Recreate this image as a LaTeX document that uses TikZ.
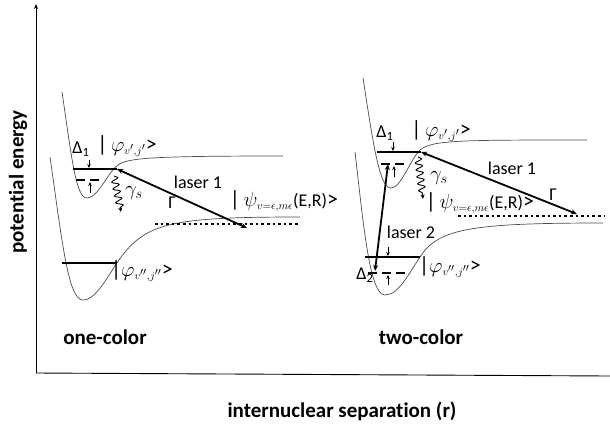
\documentclass[tikz,border=0pt]{standalone}
\usepackage{fontspec}
\setmainfont{Carlito}[Ligatures=NoCommon]
\usetikzlibrary{arrows.meta,decorations.pathmorphing}
\newcommand{\bigsz}{\fontsize{22}{24}\selectfont}

\begin{document}
\begin{tikzpicture}[
	x=1pt, y=-1pt, % one unit = one pixel of the layout, y grows downwards
	% Style for the thin potential curves
	curve/.style={
		draw=black!70,
		line width=0.7pt
	},
	% Style for the bound levels
	level/.style={
		draw=black,
		line width=2.2pt
	},
	% Style for the shifted (dashed) levels
	shifted/.style={
		draw=black,
		line width=2pt,
		dash pattern=on 9pt off 5pt
	},
	% Style for the continuum (dotted)
	continuum/.style={
		draw=black,
		line width=2.6pt,
		dash pattern=on 2.6pt off 3pt
	},
	% Style for the laser couplings
	laser/.style={
		draw=black,
		line width=1.8pt,
		{Stealth[length=6pt,width=5pt]}-{Stealth[length=6pt,width=5pt]}
	},
	% Style for the small detuning arrows
	detuning/.style={
		draw=black,
		line width=0.7pt,
		-{Stealth[length=4pt,width=3.5pt]}
	},
	% Style for the spontaneous decay
	decay/.style={
		draw=black,
		line width=0.9pt,
		decorate,
		decoration={snake, amplitude=3.5pt, segment length=7pt, post length=4pt},
		-{Stealth[length=4.5pt,width=4pt]}
	},
	% Style for the labels
	label text/.style={
		font=\fontsize{18}{20}\selectfont,
		inner sep=0pt
	},
	title text/.style={
		font=\fontsize{21}{23}\selectfont\bfseries,
		inner sep=0pt
	}
	]
	
	\useasboundingbox (0,0) rectangle (610,424);
	
	% 1. Axes
	\coordinate (O) at (36,373);
	\coordinate (Ytop) at (36,4);
	\coordinate (Xend) at (610,376);
	\draw[line width=0.9pt, -{Stealth[length=5pt,width=4pt]}] (O) -- (Ytop);
	\draw[line width=0.9pt] (O) -- (Xend);
	\node[title text, rotate=90] (energy) at (18,182) {potential energy};
	\node[title text] (separation) at (342,411) {internuclear separation (r)};
	
	% 2. One-color scheme (left)
	% Potential curves
	\draw[curve] (62,92) .. controls (72,160) and (76,198) .. (87,198)
		.. controls (98,198) and (108,172) .. (118,165)
		.. controls (128,158) and (150,156) .. (283,156);
	\draw[curve] (50,157) .. controls (62,240) and (68,300) .. (83,300)
		.. controls (98,300) and (110,270) .. (125,252)
		.. controls (150,222) and (180,217) .. (300,217);
	
	% Levels
	\coordinate (A1a) at (73,169);
	\coordinate (A1b) at (117,169);
	\coordinate (A2a) at (76,180);
	\coordinate (A2b) at (104,180);
	\coordinate (A0a) at (62,263);
	\coordinate (A0b) at (117,263);
	\coordinate (Aca) at (155,224);
	\coordinate (Acb) at (300,224);
	\coordinate (Ac) at (247,228);
	\draw[level] (A1a) -- (A1b);
	\draw[shifted] (A2a) -- (A2b);
	\draw[level] (A0a) -- (A0b);
	\draw[continuum] (Aca) -- (Acb);
	
	% Detuning, decay and laser
	\coordinate (Ad1) at (89,160);
	\coordinate (Ad2) at (90,193);
	\draw[detuning] (Ad1) -- (89,168);
	\draw[detuning] (Ad2) -- (90,182);
	\coordinate (Ag1) at (114,176);
	\coordinate (Ag2) at (121,212);
	\draw[decay] (Ag1) -- (Ag2);
	\draw[laser] (Ac) -- (A1b);
	
	% Labels
	\node[label text] (AD1) at (81,149) {Δ\textsubscript{1}};
	\node[label text] (Aexc) at (127,146) {\bigsz|\,$\varphi_{\scriptscriptstyle v',j'}$>};
	\node[label text] (Agam) at (134,193) {\bigsz$\gamma_s$};
	\node[label text] (Alas) at (198,182) {laser 1};
	\node[label text] (AGam) at (172,203) {Γ};
	\node[label text] (Acont) at (284,201) {{\bigsz|\,$\psi_{\scriptscriptstyle v=\epsilon,m\epsilon}$}(E,R){\bigsz>}};
	\node[label text] (Agnd) at (142,271) {\bigsz|$\varphi_{\scriptscriptstyle v'',j''}$>};
	\node[title text] (one) at (105,337) {one-color};
	
	% 3. Two-color scheme (right)
	% Potential curves
	\draw[curve] (363,78) .. controls (374,150) and (380,188) .. (391,188)
		.. controls (401,188) and (410,160) .. (420,150)
		.. controls (432,140) and (460,140) .. (587,140);
	\draw[curve] (355,152) .. controls (364,230) and (370,295) .. (385,295)
		.. controls (400,295) and (410,270) .. (425,250)
		.. controls (445,228) and (480,223) .. (603,223);
	
	% Levels
	\coordinate (B1a) at (377,152);
	\coordinate (B1b) at (421,152);
	\coordinate (B2a) at (381,164);
	\coordinate (B2b) at (409,164);
	\coordinate (B0a) at (365,257);
	\coordinate (B0b) at (420,257);
	\coordinate (B3a) at (368,273);
	\coordinate (B3b) at (410,273);
	\coordinate (Bca) at (458,216);
	\coordinate (Bcb) at (604,216);
	\coordinate (Bc) at (577,214);
	\draw[level] (B1a) -- (B1b);
	\draw[shifted] (B2a) -- (B2b);
	\draw[level] (B0a) -- (B0b);
	\draw[shifted] (B3a) -- (B3b);
	\draw[continuum] (Bca) -- (Bcb);
	
	% Detunings, decay and lasers
	\draw[detuning] (393,142) -- (393,151);
	\draw[detuning] (394,177) -- (394,166);
	\draw[detuning] (388,247) -- (388,256);
	\draw[detuning] (388,285) -- (388,275);
	\coordinate (Bg1) at (418,157);
	\coordinate (Bg2) at (423,199);
	\draw[decay] (Bg1) -- (Bg2);
	\coordinate (Bl2a) at (375,271);
	\coordinate (Bl2b) at (388,164);
	\draw[laser] (Bc) -- (B1b);
	\draw[laser] (Bl2a) -- (Bl2b);
	
	% Labels
	\node[label text] (BD1) at (385,133) {Δ\textsubscript{1}};
	\node[label text] (Bexc) at (441,131) {\bigsz|\,$\varphi_{\scriptscriptstyle v',j'}$>};
	\node[label text] (Bgam) at (439,178) {\bigsz$\gamma_s$};
	\node[label text] (Blas1) at (512,168) {laser 1};
	\node[label text] (BGam) at (553,195) {Γ};
	\node[label text] (Bcont) at (480,203) {{\bigsz|\,$\psi_{\scriptscriptstyle v=\epsilon,m\epsilon}$}(E,R){\bigsz>}};
	\node[label text] (Blas2) at (411,232) {laser 2};
	\node[label text] (Bgnd) at (450,267) {\bigsz|$\varphi_{\scriptscriptstyle v'',j''}$>};
	\node[label text] (BD2) at (365,275) {Δ\textsubscript{2}};
	\node[title text] (two) at (421,337) {two-color};
	
\end{tikzpicture}
\end{document}
